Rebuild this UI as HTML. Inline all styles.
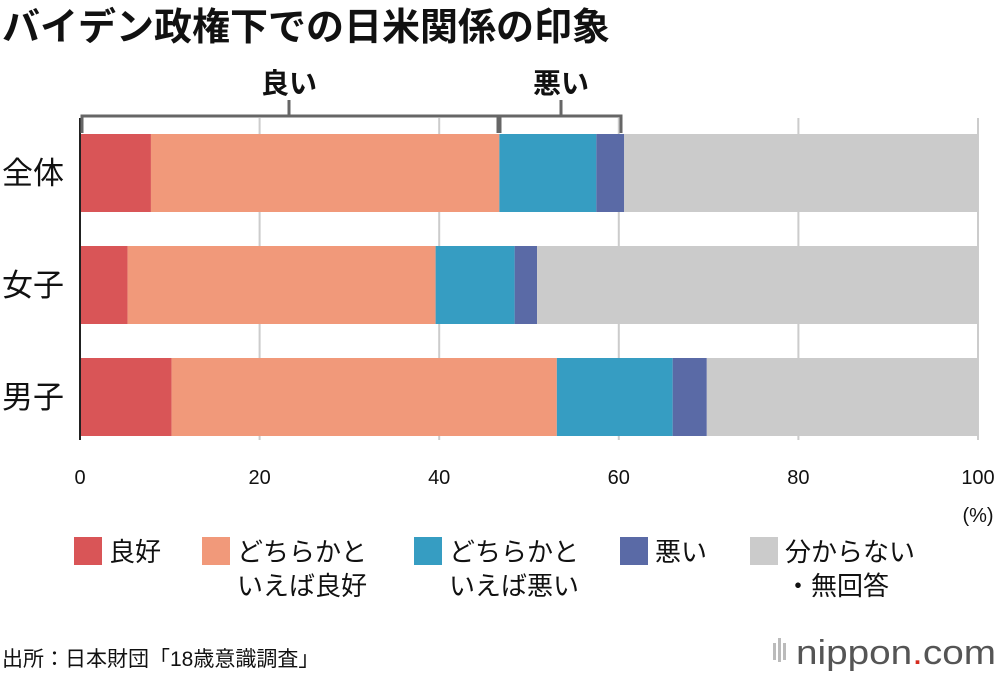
<!DOCTYPE html>
<html><head><meta charset="utf-8"><style>
body{margin:0;background:#fff;font-family:"Liberation Sans","Noto Sans CJK JP",sans-serif;}
svg text{font-family:"Liberation Sans","Noto Sans CJK JP",sans-serif;}
</style></head><body>
<svg id="c" width="1000" height="676" xmlns="http://www.w3.org/2000/svg">
<text x="2" y="40" font-size="38" font-weight="bold" fill="#111">バイデン政権下での日米関係の印象</text>
<g id="grid"></g><g id="bars"></g><g id="axis"></g>
<g stroke="#666" stroke-width="3" fill="none">
<polyline points="82,133 82,116 498,116 498,133"/><line x1="289" y1="100" x2="289" y2="116"/></g>
<g stroke="#666" stroke-width="3" fill="none">
<polyline points="500,133 500,116 621,116 621,133"/><line x1="561" y1="100" x2="561" y2="116"/></g>
<text x="289" y="93" font-size="28" font-weight="bold" text-anchor="middle" fill="#111">良い</text>
<text x="561" y="93" font-size="28" font-weight="bold" text-anchor="middle" fill="#111">悪い</text>
<text x="978" y="522" font-size="20" text-anchor="middle" fill="#111">(%)</text>
<g id="legend"></g>
<text x="2" y="666" font-size="21" fill="#111">出所：日本財団「18歳意識調査」</text>
<g>
<rect x="773" y="643" width="3" height="17" fill="#bbb"/><rect x="778" y="638" width="3" height="24" fill="#bbb"/><rect x="783" y="643" width="3" height="17" fill="#bbb"/>
<text x="796" y="664" font-size="34" fill="#555" textLength="200" lengthAdjust="spacingAndGlyphs">nippon<tspan fill="#d52b1e">.</tspan>com</text></g>
</svg>
<script>
const categories=["全体","女子","男子"];
const seriesNames=["良好","どちらかといえば良好","どちらかといえば悪い","悪い","分からない・無回答"];
const good=[7.9,5.3,10.2];
const fairlyGood=[38.8,34.3,42.9];
const fairlyBad=[10.8,8.8,12.9];
const bad=[3.1,2.5,3.8];
const unknown=[39.4,49.1,30.2];
const ticks=[0,20,40,60,80,100];
const colors=["#d95557","#f1997a","#369dc2","#5a6aa6","#cbcbcb"];
const NS="http://www.w3.org/2000/svg";
const x=v=>80+v*8.98;
const yTop=i=>134+i*112;
const bh=78;
function mk(t,a,p){const e=document.createElementNS(NS,t);for(const k in a)e.setAttribute(k,a[k]);p.appendChild(e);return e;}
const grid=document.getElementById('grid'),bars=document.getElementById('bars'),axis=document.getElementById('axis');
ticks.forEach(t=>{
 const l=mk('line',{x1:x(t),x2:x(t),y1:118,y2:440,stroke:t==0?'#222':'#ccc','stroke-width':2},t==0?axis:grid);
 
 
 const tx=mk('text',{x:x(t),y:484,'font-size':20,'text-anchor':'middle',fill:'#111'},axis);
 tx.textContent=t;
 
 
});
const series=[good,fairlyGood,fairlyBad,bad,unknown];
categories.forEach((c,i)=>{
 let acc=0;
 series.forEach((s,j)=>{
  const r=mk('rect',{x:x(acc),y:yTop(i),width:x(acc+s[i])-x(acc),height:bh,fill:colors[j]},bars);
  
  
  acc+=s[i];
 });
 const t=mk('text',{x:2,y:yTop(i)+bh/2+11,'font-size':31,fill:'#111'},axis);
 t.textContent=c;
 
 
});
const lg=document.getElementById('legend');
const lx=[74,202,414,620,750];
const lines=[["良好"],["どちらかと","いえば良好"],["どちらかと","いえば悪い"],["悪い"],["分からない","・無回答"]];
lines.forEach((ls,j)=>{
 const r=mk('rect',{x:lx[j],y:537,width:28,height:28,fill:colors[j]},lg);
 
 
 ls.forEach((s,k)=>{
  const t=mk('text',{x:lx[j]+35,y:561+k*34,'font-size':26,fill:'#111'},lg);
  t.textContent=s;
  
  
 });
});
</script>
</body></html>
